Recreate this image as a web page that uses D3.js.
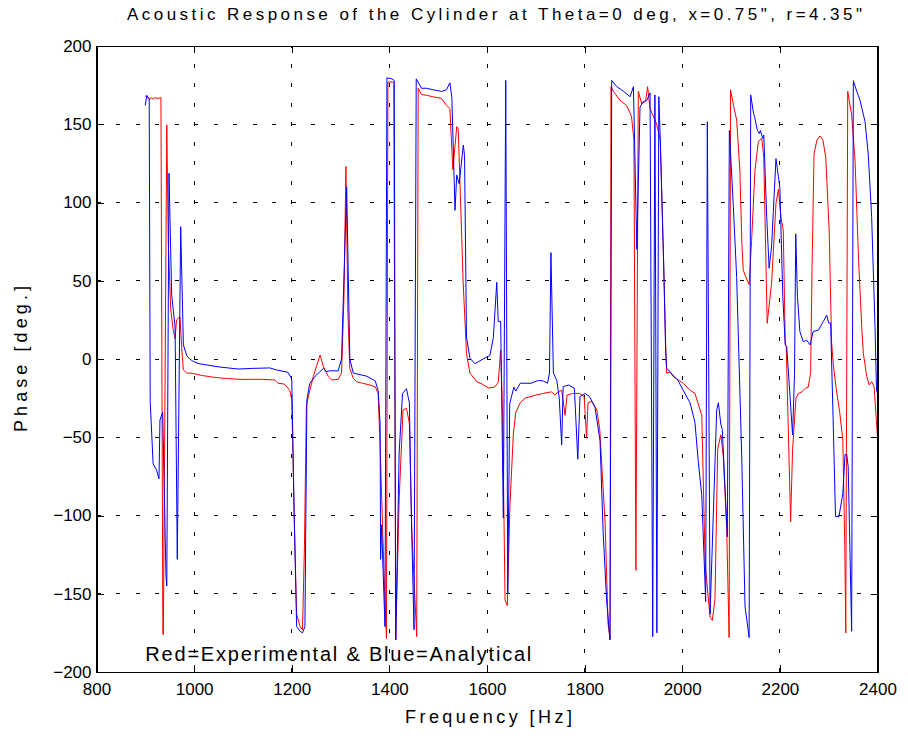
<!DOCTYPE html>
<html lang="en">
<head>
<meta charset="utf-8">
<title>Acoustic Response of the Cylinder</title>
<script src="https://cdn.jsdelivr.net/npm/d3@7"></script>
<style>
  body { margin: 0; background: #fff; }
  svg { display: block; }
  text { font-family: "Liberation Sans", Arial, Helvetica, sans-serif; fill: #000; }
</style>
</head>
<body>
<script>
// Red = experimental, Blue = analytical (frequency in Hz, phase in degrees)
let redHz = [900, 904, 908, 912, 916, 920, 926, 932, 936, 937, 944, 947, 952, 957, 961, 964, 971, 975, 978, 985,
  991, 1002, 1015, 1032, 1050, 1070, 1094, 1120, 1140, 1165, 1172, 1185, 1196, 1200, 1205, 1210, 1217, 1222, 1226, 1230,
  1234, 1244, 1258, 1265, 1275, 1282, 1295, 1302, 1307, 1311, 1315, 1319, 1326, 1333, 1345, 1360, 1371, 1377, 1381, 1389,
  1394, 1397, 1408, 1409, 1413, 1420, 1428, 1435, 1441, 1446, 1456, 1459, 1466, 1476, 1489, 1507, 1517, 1524, 1530, 1538,
  1541, 1547, 1551, 1558, 1565, 1579, 1590, 1603, 1615, 1623, 1628, 1632, 1637, 1641.6, 1647, 1654, 1659, 1668, 1678, 1701,
  1715, 1732, 1739, 1746, 1753, 1760, 1764, 1775, 1790, 1799, 1804, 1807, 1814, 1825, 1831, 1842, 1848, 1852, 1854, 1859,
  1872, 1886, 1896, 1901, 1905, 1910, 1917, 1925, 1929, 1934, 1947, 1955, 1962, 1966, 1968, 1975, 1989, 2002, 2016, 2026,
  2040, 2047, 2057, 2061.6, 2067, 2072.6, 2079, 2084, 2091, 2096, 2099, 2105, 2111.5, 2118, 2122, 2125, 2132, 2137, 2142, 2149,
  2156, 2163, 2167, 2174, 2183, 2192, 2197, 2202, 2207, 2211, 2213, 2222, 2226, 2233, 2238, 2245, 2252, 2258, 2263, 2266,
  2270, 2276, 2282, 2288, 2294, 2301, 2306, 2310, 2316, 2323, 2329, 2333, 2335, 2339, 2347, 2354, 2361, 2368, 2371, 2378,
  2383, 2388, 2393, 2400];
let redPhase = [168, 167, 166, 167, 166, 167, 166.5, 167, -176, -176, 149.5, 75, 32, 19, 13, 25, 27, 5, -7, -9,
  -9, -9.5, -10.5, -11.3, -12, -12.5, -13, -13, -13, -13.4, -15.5, -16, -20, -26, -100, -163, -171, -173, -120, -30,
  -24, -11.3, 2.5, -5, -11.3, -13.4, -13, -9, 40, 123, 30, -6, -12.4, -14.5, -15.5, -16.6, -17.7, -22, -55, -137,
  -178.5, 177, 177, 176, -179.5, -90, -32.6, -31.5, -41, -110, -177.4, 173, 169, 168.5, 167.6, 166.5, 162, 160, 121, 148.5,
  147, 90, 50, 3.6, -9, -14.5, -16, -18.5, -18, -15, 5.7, -36, -154, -157.5, -93.6, -48, -34, -28, -25, -23,
  -22, -21, -23, -21, -20, -36, -23, -22, -22, -24, -50, -28, -27, -32.6, -45, -105, -169, -179, 174, 171,
  165.5, 162, 155, 140, -135, 171, 163, 165, 174, 160, 150.6, 140, 60, 10, -9, -8.5, -12.8, -15.5, -20, -22,
  -36, -131, -165, -167, -153.6, -57.6, -48.5, -62, -108, -178, 172, 162, 152.7, 120.7, 75, 56.7, 51, 47.6, 75, 120.7,
  139, 141, 129, 22.8, 48.4, 99.5, 108.4, 91, 82, 10, 8, -104, -58, -25, -22, -21, -18.7, -18, -9, 60,
  131, 140, 142.5, 140, 129, 82, 10, -5, -20, -35, -52, -120, -175, 171, 156, 127, 65, 18.5, 3.6, -11.3,
  -16.6, -14.5, -17.7, -50];

let blueHz = [900, 903, 906, 908, 910, 916, 923, 928, 930, 935.6, 942.4, 944, 948.5, 954, 961, 965.5, 972.5, 978, 985, 991,
  998, 1010, 1049, 1090, 1120, 1155, 1169, 1192, 1200, 1205, 1210, 1217, 1222, 1227, 1231, 1237, 1248, 1265, 1270, 1280,
  1295, 1302, 1312.5, 1319, 1326, 1354, 1371, 1377, 1381, 1382, 1384, 1391, 1395, 1405, 1410, 1413, 1420, 1427, 1435, 1441,
  1445, 1450.5, 1455, 1466, 1476, 1490, 1507, 1517, 1524, 1528, 1534.5, 1538, 1543, 1551.5, 1554, 1558, 1565, 1575, 1592, 1606,
  1613, 1620, 1623, 1628, 1633.5, 1638.4, 1642.5, 1646.6, 1655, 1659, 1668, 1690, 1705, 1715, 1724, 1728, 1731, 1736, 1743, 1748,
  1753, 1756, 1767, 1779, 1786, 1790.5, 1801, 1810, 1821, 1831.5, 1838, 1845, 1852, 1855.5, 1866, 1880, 1893, 1900, 1907, 1913.5,
  1920, 1927, 1934, 1939.5, 1944, 1948, 1952, 1955, 1962, 1966, 1968, 1975, 1982, 1990, 2002, 2016, 2026, 2033, 2040, 2048,
  2051.4, 2057, 2070.6, 2074, 2079, 2082, 2092.4, 2096.5, 2104.6, 2111.5, 2121.8, 2128.6, 2137, 2140.3, 2146, 2148, 2154, 2158, 2160, 2165,
  2167, 2173, 2178, 2183, 2192, 2197, 2200, 2206, 2211, 2214, 2220, 2226, 2230, 2232.5, 2236, 2241, 2248, 2255, 2262, 2268,
  2279, 2289, 2296, 2300, 2304, 2310, 2314, 2321, 2329, 2333.5, 2337, 2340, 2347, 2350.5, 2357.5, 2364, 2374.5, 2381, 2388, 2395,
  2398, 2400];
let bluePhase = [162, 168.5, 167, 166.7, -27, -67, -71, -76.5, -39, -34, -139, -145, 118.7, 41, 20.5, -128, 84.5, 9, 2, 0,
  -1.5, -3, -5, -6.4, -6, -5.7, -7, -8.5, -12.6, -100, -171, -174, -175, -171, -26, -15.5, -11, -6, -8, -7.5,
  -7.6, 0, 110, 0, -9, -11, -14, -20, -41, -128, -106, -171, 179.7, 179, 178, -179.6, -60, -22, -19, -28,
  -100, -173, 179, 173, 173, 172, 171, 172, 176.5, 167, 95, 117.6, 112, 136.7, 130, 14, 0.6, -3, 0, 2.3,
  13.7, 49, 24, 24, -101.6, 178, -149.5, -28.5, -18, -20.5, -15.5, -15.5, -13.7, -14, -15.5, -9, 68, -9, -13.7, -25,
  -55, -17.7, -16.6, -18.7, -64, -24, -22, -24, -30.5, -52, -111, -154, -179.5, 178, 174, 171, 167.6, 174, 70, 161,
  164.5, 165, 170, -177.4, 168.7, -175, 167.6, 140, 60, 5, -6, -8, -11.3, -13, -20, -28, -40.5, -66, -87, -155,
  151.6, -163, -32.5, -28, -41.6, -45, -113.6, 146, 98, 52, -62, -158, -178, 168.7, 157, 155, 146, 144, 146, 141,
  143, 91, 58, 71.8, 128, 116.5, 109, 40, 9, 8, -20, -48.6, -10, 80, 40, 17.5, 11, 12, 9, 17.5,
  18.5, 24, 28, 23, 23, -50, -100.7, -100.7, -86, -61, -61, -69, -174, 177.8, 171, 165.5, 151.6, 131, 91, 20,
  -20, -22];

let xTicks = [800, 1000, 1200, 1400, 1600, 1800, 2000, 2200, 2400];
let yTicks = [-200, -150, -100, -50, 0, 50, 100, 150, 200];

let w = 908;
let h = 740;
let plotL = 96.5, plotR = 877.5, plotT = 46, plotB = 672;

let xScale = d3.scaleLinear().domain([800, 2400]).range([plotL, plotR]);
let yScale = d3.scaleLinear().domain([-200, 200]).range([plotB, plotT]);

let svg = d3.select("body")
  .append("svg")
  .attr("width", w)
  .attr("height", h);

svg.append("rect")
  .attr("width", w)
  .attr("height", h)
  .attr("fill", "#fff");

// dotted grid
let grid = svg.append("g")
  .attr("stroke", "#000")
  .attr("stroke-width", 1)
  .attr("stroke-dasharray", "4,15.5")
  .attr("shape-rendering", "crispEdges");

grid.selectAll("line.vx")
  .data(xTicks.slice(1, -1))
  .enter()
  .append("line")
  .attr("class", "vx")
  .attr("x1", d => xScale(d))
  .attr("x2", d => xScale(d))
  .attr("y1", plotB)
  .attr("y2", plotT);

grid.selectAll("line.hy")
  .data(yTicks.slice(1, -1))
  .enter()
  .append("line")
  .attr("class", "hy")
  .attr("x1", plotL)
  .attr("x2", plotR)
  .attr("y1", d => yScale(d))
  .attr("y2", d => yScale(d));

// data lines
let line = d3.line()
  .x(d => xScale(d[0]))
  .y(d => yScale(d[1]));

svg.append("path")
  .datum(d3.zip(redHz, redPhase))
  .attr("fill", "none")
  .attr("stroke", "#ff0000")
  .attr("stroke-width", 1)
  .attr("d", line);

svg.append("path")
  .datum(d3.zip(blueHz, bluePhase))
  .attr("fill", "none")
  .attr("stroke", "#0000ff")
  .attr("stroke-width", 1)
  .attr("d", line);

// axes with inward ticks on all four sides
let tickLen = 7;
let xAxis = d3.axisBottom(xScale).tickValues(xTicks).tickFormat(d3.format("d"))
  .tickSizeInner(-tickLen).tickSizeOuter(0).tickPadding(11);
let xAxisTop = d3.axisTop(xScale).tickValues(xTicks).tickFormat("")
  .tickSizeInner(-tickLen).tickSizeOuter(0);
let yAxis = d3.axisLeft(yScale).tickValues(yTicks).tickFormat(d3.format("d"))
  .tickSizeInner(-tickLen).tickSizeOuter(0).tickPadding(5);
let yAxisRight = d3.axisRight(yScale).tickValues(yTicks).tickFormat("")
  .tickSizeInner(-tickLen).tickSizeOuter(0);

function styleAxis(g) {
  g.attr("font-family", null).attr("font-size", null);
  g.selectAll("text").attr("font-size", "17px").attr("fill", "#000");
  g.selectAll("line, path").attr("stroke", "#000").attr("shape-rendering", "crispEdges");
}

svg.append("g").attr("transform", `translate(0,${plotB})`).call(xAxis).call(styleAxis);
svg.append("g").attr("transform", `translate(0,${plotT})`).call(xAxisTop).call(styleAxis);
svg.append("g").attr("transform", `translate(${plotL},0)`).call(yAxis).call(styleAxis);
svg.append("g").attr("transform", `translate(${plotR},0)`).call(yAxisRight).call(styleAxis);

// frame
svg.append("rect")
  .attr("x", plotL)
  .attr("y", plotT)
  .attr("width", plotR - plotL)
  .attr("height", plotB - plotT)
  .attr("fill", "none")
  .attr("stroke", "#000")
  .attr("shape-rendering", "crispEdges");

// texts
svg.append("text")
  .attr("x", 127)
  .attr("y", 20)
  .attr("font-size", "17px")
  .attr("textLength", 735)
  .attr("lengthAdjust", "spacing")
  .text("Acoustic Response of the Cylinder at Theta=0 deg, x=0.75\", r=4.35\"");

svg.append("text")
  .attr("x", 405)
  .attr("y", 723)
  .attr("font-size", "18px")
  .attr("textLength", 167)
  .attr("lengthAdjust", "spacing")
  .text("Frequency [Hz]");

svg.append("text")
  .attr("transform", "translate(27,432) rotate(-90)")
  .attr("font-size", "18px")
  .attr("textLength", 146)
  .attr("lengthAdjust", "spacing")
  .text("Phase [deg.]");

svg.append("text")
  .attr("x", xScale(900))
  .attr("y", 661)
  .attr("font-size", "20px")
  .attr("textLength", 386)
  .attr("lengthAdjust", "spacing")
  .text("Red=Experimental & Blue=Analytical");
</script>
</body>
</html>
